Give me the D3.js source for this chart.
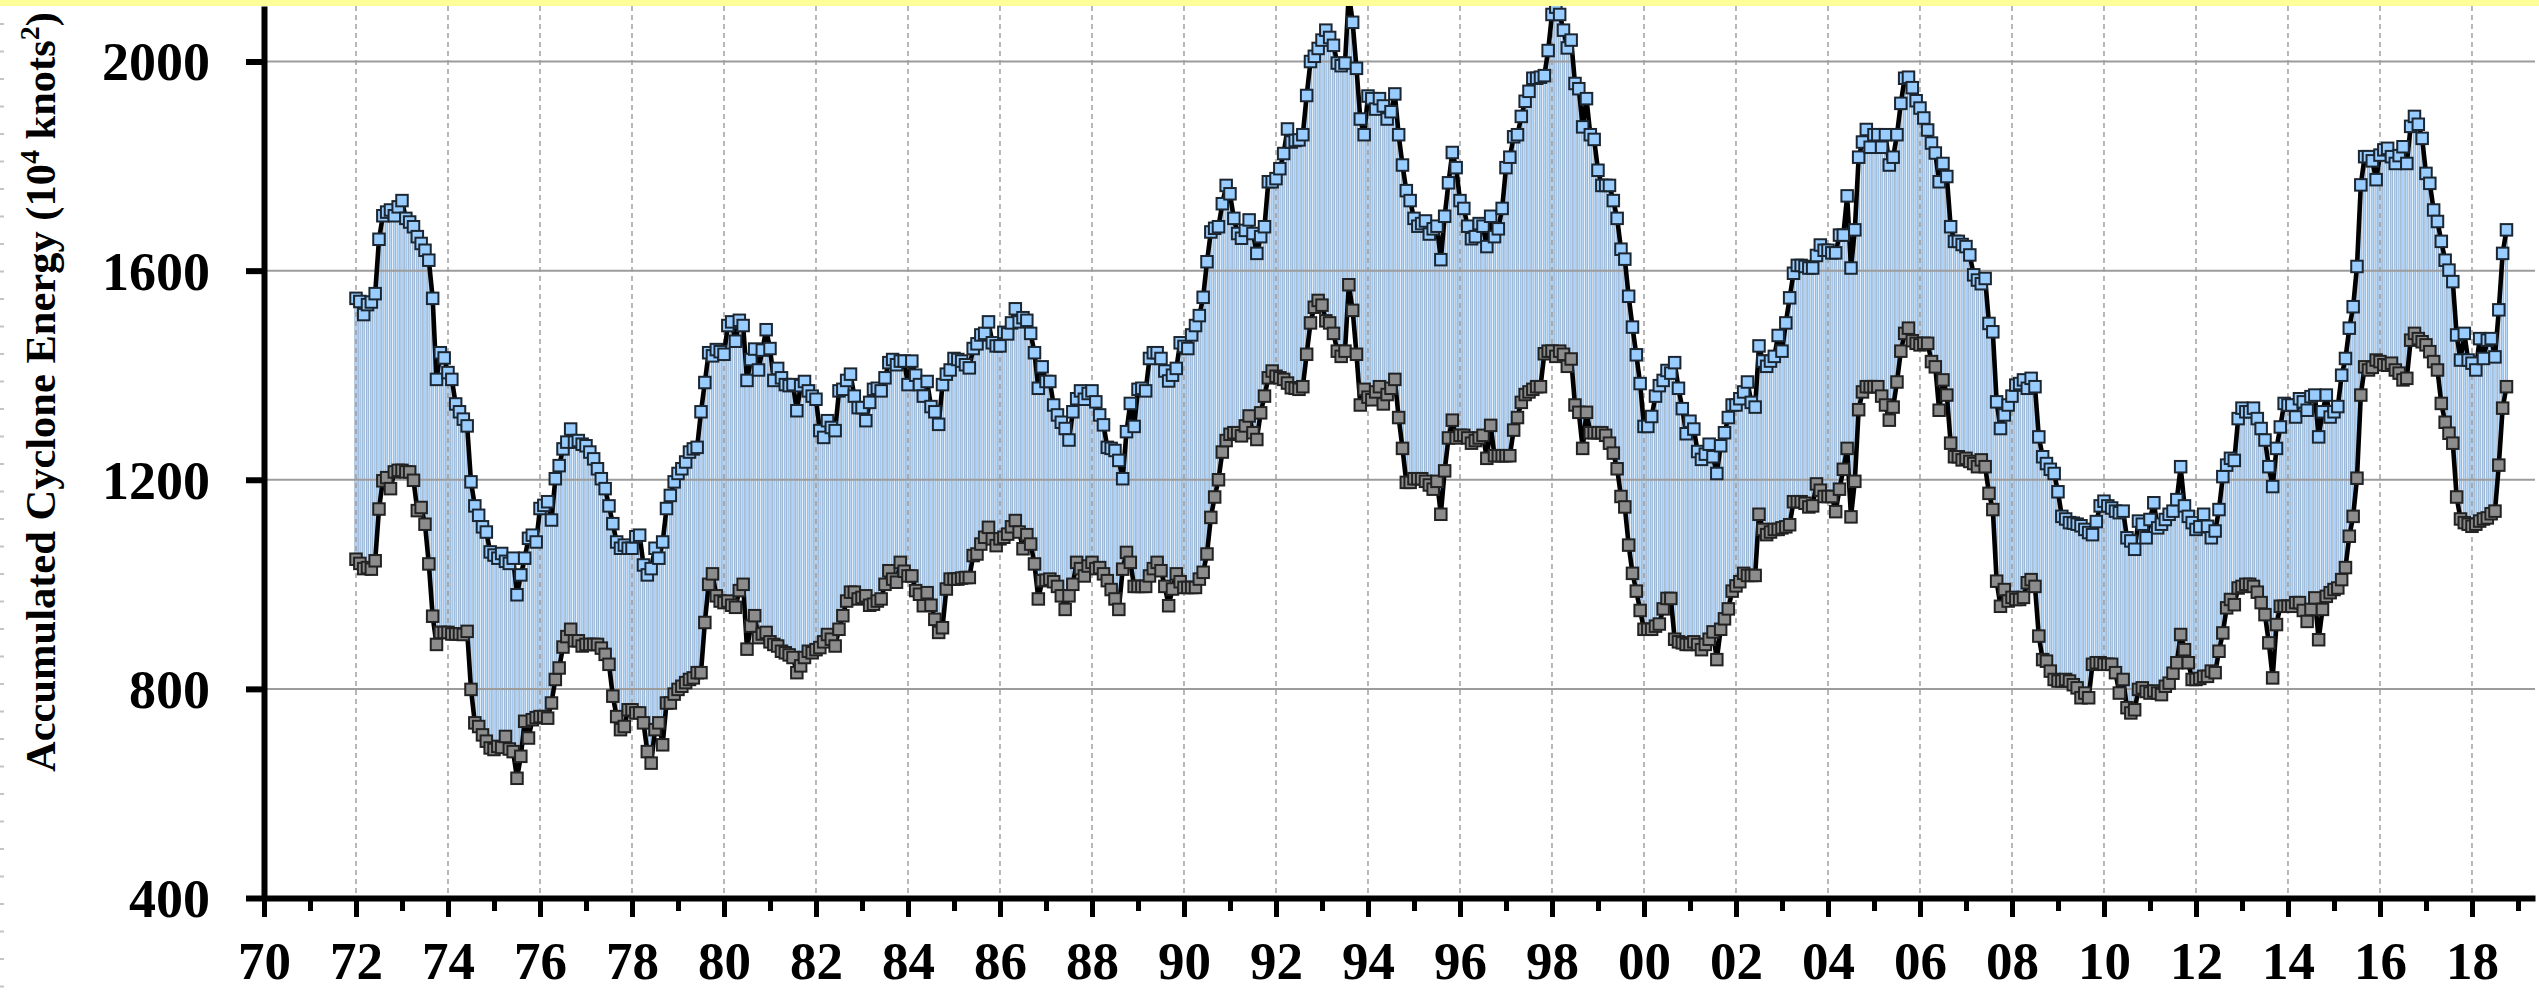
<!DOCTYPE html>
<html>
<head>
<meta charset="utf-8">
<script src="https://cdn.jsdelivr.net/npm/d3@7"></script>
<style>
  html, body { margin: 0; padding: 0; background: #ffffff; }
  svg { display: block; }
</style>
</head>
<body>
<svg id="chart" width="2539" height="992"></svg>
<script>
// ---------------- DATA (monthly values, Jan 1972 .. Oct 2018) ----------------
const startYear = 1972;

const upperACE = [
  1547,1541,1516,1535,1540,1556,1660,1705,1712,1716,1705,1722, // 1972
  1734,1700,1693,1684,1665,1652,1639,1620,1547,1392,1443,1433, // 1973
  1405,1392,1345,1330,1316,1303,1196,1150,1132,1110,1100,1062, // 1974
  1056,1050,1059,1044,1040,1050, 980,1018,1050,1088,1094,1081, // 1975
  1145,1151,1158,1123,1202,1227,1259,1272,1297,1272,1275,1268, // 1976
  1265,1253,1240,1221,1202,1183,1150,1116,1081,1069,1075,1069, // 1977
  1069,1091,1094,1037,1018,1030,1069,1050,1081,1145,1170,1196, // 1978
  1212,1221,1234,1253,1259,1262,1330,1386,1443,1437,1449,1445, // 1979
  1440,1495,1502,1465,1505,1495,1390,1430,1450,1410,1448,1487, // 1980
  1451,1390,1413,1395,1382,1380,1382,1332,1380,1388,1370,1360, // 1981
  1354,1294,1281,1313,1300,1294,1370,1373,1390,1402,1360,1338, // 1982
  1338,1313,1348,1373,1375,1370,1395,1424,1430,1420,1427,1427, // 1983
  1382,1427,1400,1382,1360,1388,1340,1330,1306,1382,1402,1410, // 1984
  1432,1430,1427,1420,1414,1451,1460,1477,1480,1502,1462,1456, // 1985
  1456,1482,1479,1500,1527,1502,1510,1505,1480,1443,1375,1416, // 1986
  1388,1388,1343,1324,1310,1298,1276,1330,1355,1370,1354,1365, // 1987
  1370,1349,1324,1305,1262,1260,1256,1237,1202,1292,1346,1302, // 1988
  1373,1375,1370,1432,1443,1443,1432,1408,1389,1400,1413,1462, // 1989
  1455,1451,1477,1495,1514,1549,1617,1674,1681,1684,1728,1763, // 1990
  1747,1700,1671,1662,1677,1697,1671,1633,1665,1684,1770,1770, // 1991
  1776,1795,1824,1871,1846,1849,1850,1860,1935,2000,2010,2025, // 1992
  2041,2060,2046,2031,1997,1992,1997,2130,2075,1987,1890,1860, // 1993
  1934,1929,1909,1929,1915,1890,1904,1938,1860,1802,1753,1734, // 1994
  1700,1685,1690,1695,1670,1680,1685,1621,1704,1768,1826,1797, // 1995
  1734,1719,1685,1661,1665,1690,1685,1646,1704,1665,1680,1719, // 1996
  1797,1817,1856,1860,1895,1924,1943,1968,1968,1970,1973,2021, // 1997
  2090,2104,2090,2060,2026,2041,1958,1948,1875,1929,1860,1851, // 1998
  1792,1763,1763,1763,1734,1700,1641,1622,1551,1492,1439,1384, // 1999
  1302,1302,1321,1360,1380,1390,1409,1404,1424,1375,1336,1288, // 2000
  1312,1297,1254,1239,1249,1268,1244,1212,1265,1290,1319,1343, // 2001
  1343,1355,1368,1387,1348,1339,1456,1427,1417,1427,1436,1476, // 2002
  1446,1500,1548,1595,1610,1610,1608,1605,1605,1629,1649,1639, // 2003
  1639,1634,1634,1668,1668,1743,1605,1678,1817,1846,1870,1836, // 2004
  1860,1860,1836,1860,1802,1817,1860,1920,1968,1970,1950,1925, // 2005
  1911,1892,1869,1844,1825,1770,1805,1780,1684,1656,1656,1650, // 2006
  1646,1630,1592,1582,1575,1585,1499,1483,1349,1298,1324,1343, // 2007
  1360,1381,1384,1391,1375,1394,1378,1282,1244,1231,1220,1212, // 2008
  1177,1130,1125,1118,1117,1115,1112,1105,1099,1095,1120,1150, // 2009
  1159,1150,1146,1140,1137,1140,1089,1083,1067,1121,1115,1089, // 2010
  1124,1156,1108,1115,1124,1134,1140,1162,1225,1150,1130,1118, // 2011
  1105,1110,1134,1111,1089,1102,1143,1206,1228,1241,1237,1317, // 2012
  1337,1330,1330,1337,1317,1298,1276,1225,1187,1260,1301,1346, // 2013
  1343,1343,1320,1355,1349,1333,1359,1362,1282,1330,1362,1320, // 2014
  1330,1340,1400,1432,1490,1531,1608,1764,1818,1818,1810,1774, // 2015
  1821,1831,1834,1818,1805,1820,1837,1805,1876,1895,1880,1853, // 2016
  1786,1767,1716,1694,1656,1620,1601,1579,1477,1429,1480,1429, // 2017
  1423,1410,1470,1432,1467,1470,1435,1525,1633,1678            // 2018
];

const lowerACE = [
  1048,1040,1030,1032,1029,1045,1144,1198,1204,1183,1215,1218, // 1972
  1218,1215,1215,1199,1141,1147,1115,1039, 939, 885, 908, 908, // 1973
   908, 905, 905, 905, 904, 910, 799, 735, 728, 712, 700, 687, // 1974
   684, 690, 688, 709, 685, 680, 629, 671, 738, 706, 741, 745, // 1975
   747, 747, 744, 773, 818, 840, 880, 900, 914, 892, 892, 882, // 1976
   885, 885, 885, 885, 878, 866, 847, 786, 747, 722, 728, 760, // 1977
   760, 754, 754, 735, 680, 658, 722, 735, 693, 773, 773, 790, // 1978
   799, 805, 812, 818, 821, 831, 831, 927,1000,1020, 978, 968, // 1979
   965, 968, 960, 956, 988,1000, 876, 920, 940, 898, 905, 908, // 1980
   890, 885, 882, 872, 869, 865, 860, 831, 844, 860, 872, 869, // 1981
   875, 879, 890, 904, 895, 882, 914, 940, 968, 985, 985, 972, // 1982
   975, 978, 960, 962, 968, 972,1000,1026,1010,1004,1042,1025, // 1983
  1016,1016, 988, 981, 959, 984, 960, 933, 908, 917, 991,1010, // 1984
  1010,1010,1012,1013,1013,1055,1058,1077,1090,1109,1087,1074, // 1985
  1087,1090,1096,1110,1122,1100,1068,1095,1077,1039, 972,1007, // 1986
  1008,1010,1005, 996, 978, 952, 978,1000,1042,1030,1016,1035, // 1987
  1042,1030,1032,1020,1007, 990, 972, 952,1029,1061,1042, 996, // 1988
   996, 996, 996,1016,1030,1042,1026, 996, 959, 991,1020,1005, // 1989
   994, 994, 994, 994,1010,1023,1058,1128,1167,1200,1253,1275, // 1990
  1287,1290,1290,1284,1303,1322,1290,1277,1328,1360,1395,1408, // 1991
  1398,1395,1392,1385,1376,1375,1373,1378,1440,1500,1530,1543, // 1992
  1534,1504,1500,1480,1446,1436,1446,1573,1524,1440,1343,1373, // 1993
  1358,1353,1368,1378,1345,1363,1375,1392,1319,1260,1195,1195, // 1994
  1202,1202,1202,1197,1190,1182,1197,1134,1217,1280,1314,1280, // 1995
  1285,1285,1280,1270,1275,1280,1285,1241,1304,1246,1246,1246, // 1996
  1246,1246,1295,1319,1348,1363,1368,1373,1378,1378,1441,1446, // 1997
  1446,1436,1446,1440,1417,1431,1343,1329,1260,1329,1290,1290, // 1998
  1290,1290,1285,1270,1251,1221,1168,1148,1075,1021, 987, 950, // 1999
   914, 914, 914, 920, 924, 953, 973, 973, 895, 890, 888, 885, // 2000
   885, 890, 885, 875, 885, 895, 909, 856, 914, 934, 953, 987, // 2001
   997,1005,1021,1017,1017,1017,1134,1105,1095,1100,1105,1105, // 2002
  1108,1110,1114,1158,1158,1158,1155,1148,1150,1192,1180,1168, // 2003
  1168,1168,1139,1182,1220,1260,1129,1197,1334,1368,1378,1378, // 2004
  1378,1378,1360,1343,1314,1339,1387,1446,1480,1490,1466,1461, // 2005
  1458,1461,1461,1426,1416,1333,1391,1362,1270,1244,1244,1238, // 2006
  1241,1235,1231,1225,1238,1225,1174,1143,1006, 958, 990, 968, // 2007
   975, 971, 971, 975,1003,1009, 996, 901, 856, 853, 834, 818, // 2008
   815, 815, 818, 815, 808, 802, 783, 792, 783, 847, 850, 850, // 2009
   847, 847, 847, 831, 792, 818, 764, 754, 760, 799, 802, 795, // 2010
   792, 796, 792, 789, 805, 811, 830, 850, 904, 875, 850, 818, // 2011
   818, 820, 824, 824, 834, 831, 872, 907, 955, 971, 961, 993, // 2012
   996,1000,1000, 996, 985, 965, 942, 888, 821, 923, 958, 958, // 2013
   958, 958, 965, 965, 950, 929, 952, 974, 894, 952, 977, 984, // 2014
   990, 993,1009,1032,1092,1130,1203,1362,1416,1410,1415,1429, // 2015
  1426,1420,1419,1423,1410,1404,1391,1394,1467,1480,1470,1464, // 2016
  1458,1445,1426,1410,1346,1310,1289,1270,1167,1125,1118,1115, // 2017
  1111,1115,1121,1125,1127,1135,1140,1228,1337,1378            // 2018
];

const xMajorYears  = [1970,1972,1974,1976,1978,1980,1982,1984,1986,1988,1990,1992,1994,
                      1996,1998,2000,2002,2004,2006,2008,2010,2012,2014,2016,2018];
const xMajorLabels = ["70","72","74","76","78","80","82","84","86","88","90","92","94",
                      "96","98","00","02","04","06","08","10","12","14","16","18"];
const xMinorYears  = [1971,1973,1975,1977,1979,1981,1983,1985,1987,1989,1991,1993,1995,
                      1997,1999,2001,2003,2005,2007,2009,2011,2013,2015,2017,2019];
const yTickValues  = [400, 800, 1200, 1600, 2000];
const yGridValues  = [800, 1200, 1600, 2000];
const yTitle = ["Accumulated Cyclone Energy (10", "4", " knots", "2", ")"];

// ---------------- LAYOUT ----------------
const W = 2539, H = 992;
const plotLeft = 264, plotRight = 2535, plotTop = 6, plotBottom = 898;
const FONT = "'Liberation Serif','Times New Roman',Times,serif";

const x = d3.scaleLinear().domain([1970, 2019.37]).range([plotLeft, plotRight]);
const y = d3.scaleLinear().domain([400, 2106.2]).range([plotBottom, plotTop]);

const rows = upperACE.map((u, i) => ({ t: startYear + i / 12, hi: u, lo: lowerACE[i] }));

const svg = d3.select("#chart");

svg.append("rect").attr("x", 0).attr("y", 0).attr("width", W).attr("height", H).attr("fill", "#ffffff");
svg.append("rect").attr("x", 0).attr("y", 0).attr("width", W).attr("height", plotTop).attr("fill", "#ffff99");

// faint ruler marks on the far left edge
svg.append("line").attr("x1", 2).attr("x2", 2).attr("y1", 23).attr("y2", H)
  .attr("stroke", "#c4c4c4").attr("stroke-width", 4).attr("stroke-dasharray", "2,25.5");

svg.append("defs").append("clipPath").attr("id", "plotclip")
  .append("rect").attr("x", plotLeft).attr("y", plotTop)
  .attr("width", plotRight - plotLeft).attr("height", plotBottom - plotTop);

const plot = svg.append("g").attr("clip-path", "url(#plotclip)");

// drop lines between lower and upper series
plot.append("g").selectAll("rect").data(rows).join("rect")
  .attr("x", d => x(d.t) - 1.2)
  .attr("width", 2.4)
  .attr("y", d => y(d.hi))
  .attr("height", d => y(d.lo) - y(d.hi))
  .attr("fill", "#b4d9ff")
  .attr("stroke", "#7f9ab8")
  .attr("stroke-width", 0.6);

// grid lines
plot.append("g").selectAll("line").data(xMajorYears.filter(v => v > 1970)).join("line")
  .attr("x1", d => x(d)).attr("x2", d => x(d))
  .attr("y1", plotTop).attr("y2", plotBottom)
  .attr("stroke", "#9a9a9a").attr("stroke-width", 1.4).attr("stroke-dasharray", "5,4");

plot.append("g").selectAll("line").data(yGridValues).join("line")
  .attr("x1", plotLeft).attr("x2", plotRight)
  .attr("y1", d => y(d)).attr("y2", d => y(d))
  .attr("stroke", "#9c9c9c").attr("stroke-width", 2);

// series lines
const lineHi = d3.line().x(d => x(d.t)).y(d => y(d.hi));
const lineLo = d3.line().x(d => x(d.t)).y(d => y(d.lo));
plot.append("path").datum(rows).attr("d", lineLo)
  .attr("fill", "none").attr("stroke", "#000").attr("stroke-width", 4.6).attr("stroke-linejoin", "round");
plot.append("path").datum(rows).attr("d", lineHi)
  .attr("fill", "none").attr("stroke", "#000").attr("stroke-width", 4.6).attr("stroke-linejoin", "round");

// markers
const MS = 11.5;
plot.append("g").selectAll("rect").data(rows).join("rect")
  .attr("x", d => x(d.t) - MS / 2).attr("y", d => y(d.lo) - MS / 2)
  .attr("width", MS).attr("height", MS)
  .attr("fill", "#8c8c8c").attr("stroke", "#222").attr("stroke-width", 2);
plot.append("g").selectAll("rect").data(rows).join("rect")
  .attr("x", d => x(d.t) - MS / 2).attr("y", d => y(d.hi) - MS / 2)
  .attr("width", MS).attr("height", MS)
  .attr("fill", "#99ccff").attr("stroke", "#1b2631").attr("stroke-width", 2);

// ---------------- AXES ----------------
const xAxisMajor = d3.axisBottom(x).tickValues(xMajorYears)
  .tickFormat((d, i) => xMajorLabels[i]).tickSize(19).tickSizeOuter(0);
const xAxisMinor = d3.axisBottom(x).tickValues(xMinorYears).tickFormat("").tickSize(13).tickSizeOuter(0);

const gxMinor = svg.append("g").attr("transform", `translate(0,${plotBottom})`).call(xAxisMinor);
gxMinor.select(".domain").remove();
gxMinor.selectAll("line").attr("stroke", "#000").attr("stroke-width", 5);

const gx = svg.append("g").attr("transform", `translate(0,${plotBottom})`).call(xAxisMajor);
gx.select(".domain").attr("stroke", "#000").attr("stroke-width", 6);
gx.selectAll(".tick line").attr("stroke", "#000").attr("stroke-width", 5);
gx.selectAll(".tick text")
  .attr("y", 81).attr("dy", 0)
  .attr("fill", "#000")
  .style("font-family", FONT).style("font-weight", "bold").style("font-size", "53px");

const yAxis = d3.axisLeft(y).tickValues(yTickValues).tickFormat(d3.format("d")).tickSize(18).tickSizeOuter(0);
const gy = svg.append("g").attr("transform", `translate(${plotLeft},0)`).call(yAxis);
gy.select(".domain").attr("stroke", "#000").attr("stroke-width", 6);
gy.selectAll(".tick line").attr("stroke", "#000").attr("stroke-width", 6);
gy.selectAll(".tick text")
  .attr("x", -54).attr("dy", "0.34em")
  .attr("fill", "#000")
  .style("font-family", FONT).style("font-weight", "bold").style("font-size", "54px");

// y-axis title
const title = svg.append("text")
  .attr("transform", "translate(55,392) rotate(-90)")
  .attr("text-anchor", "middle")
  .attr("fill", "#000")
  .style("font-family", FONT).style("font-weight", "bold").style("font-size", "42.5px");
title.append("tspan").text(yTitle[0]);
title.append("tspan").attr("dy", -16).style("font-size", "28px").text(yTitle[1]);
title.append("tspan").attr("dy", 16).text(yTitle[2]);
title.append("tspan").attr("dy", -16).style("font-size", "28px").text(yTitle[3]);
title.append("tspan").attr("dy", 16).text(yTitle[4]);
</script>
</body>
</html>
